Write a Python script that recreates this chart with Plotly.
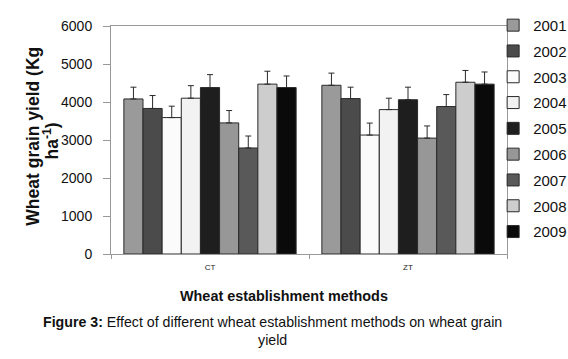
import plotly.graph_objects as go

methods = ["CT", "ZT"]
years = ["2001", "2002", "2003", "2004", "2005", "2006", "2007", "2008", "2009"]
yield_ct = [4080, 3830, 3590, 4100, 4380, 3450, 2790, 4470, 4380]
yield_zt = [4440, 4090, 3130, 3800, 4060, 3050, 3880, 4520, 4470]
err_ct = [310, 340, 300, 330, 340, 325, 315, 340, 305]
err_zt = [320, 300, 315, 300, 330, 320, 315, 310, 320]
colors = ["#9a9a9a", "#4b4b4b", "#fbfbfb", "#f2f2f2", "#1e1e1e", "#979797", "#595959", "#cdcdcd", "#0a0a0a"]

fig = go.Figure()
for i, yr in enumerate(years):
    fig.add_trace(go.Bar(
        name=yr,
        x=methods,
        y=[yield_ct[i], yield_zt[i]],
        legendgroup=yr,
        marker=dict(color=colors[i], line=dict(color="#2a2a2a", width=1)),
        error_y=dict(type="data", symmetric=False,
                     array=[err_ct[i], err_zt[i]], arrayminus=[0, 0],
                     color="#2a2a2a", thickness=1, width=3),
    ))

fig.update_layout(
    width=568, height=359,
    margin=dict(l=111, r=61, t=26, b=105, autoexpand=False),
    paper_bgcolor="white", plot_bgcolor="white",
    barmode="group", bargap=0.13, bargroupgap=0,
    font=dict(family="Liberation Sans, Arial, sans-serif", size=14, color="#111"),
    showlegend=True,
    legend=dict(x=0.965, xanchor="left", y=1.075, yanchor="top",
                font=dict(size=15, color="#111"),
                traceorder="grouped", tracegroupgap=3.3, maxheight=1,
                bgcolor="rgba(0,0,0,0)", borderwidth=0),
    xaxis=dict(
        showline=True, linecolor="#999", linewidth=1, mirror=True,
        ticks="outside", tickson="boundaries", ticklen=4, tickcolor="#999",
        ticklabelstandoff=5,
        tickfont=dict(size=8, color="#222"),
        showgrid=False,
    ),
    yaxis=dict(
        range=[0, 6000], dtick=1000,
        showline=True, linecolor="#999", linewidth=1, mirror=True,
        ticks="outside", ticklen=7, tickcolor="#999", ticklabelstandoff=8,
        tickfont=dict(size=14, color="#111"),
        showgrid=False, zeroline=False,
    ),
    annotations=[
        dict(
            text="<b>Wheat grain yield (Kg</b>",
            xref="paper", yref="paper", x=-0.197, y=0.519, xanchor="center", yanchor="middle",
            textangle=-90, showarrow=False, font=dict(size=17.5, color="#111"),
        ),
        dict(
            text="<b>ha<sup>-1</sup>)</b>",
            xref="paper", yref="paper", x=-0.152, y=0.497, xanchor="center", yanchor="middle",
            textangle=-90, showarrow=False, font=dict(size=17.5, color="#111"),
        ),
        dict(
            text="<b>Wheat establishment methods</b>",
            xref="paper", yref="paper", x=0.437, y=-0.183, xanchor="center", yanchor="middle",
            showarrow=False, font=dict(size=14.4, color="#111"),
        ),
        dict(
            text="<b>Figure 3:</b> Effect of different wheat establishment methods on wheat grain<br>yield",
            xref="paper", yref="paper", x=0.4066, y=-0.255, xanchor="center", yanchor="top",
            showarrow=False, font=dict(size=14.2, color="#111"), align="center",
        ),
    ],
)

fig.write_html(
    "out.html",
    config={"displayModeBar": False},
    post_script="document.body.style.margin='0';document.body.style.overflow='hidden';",
)
